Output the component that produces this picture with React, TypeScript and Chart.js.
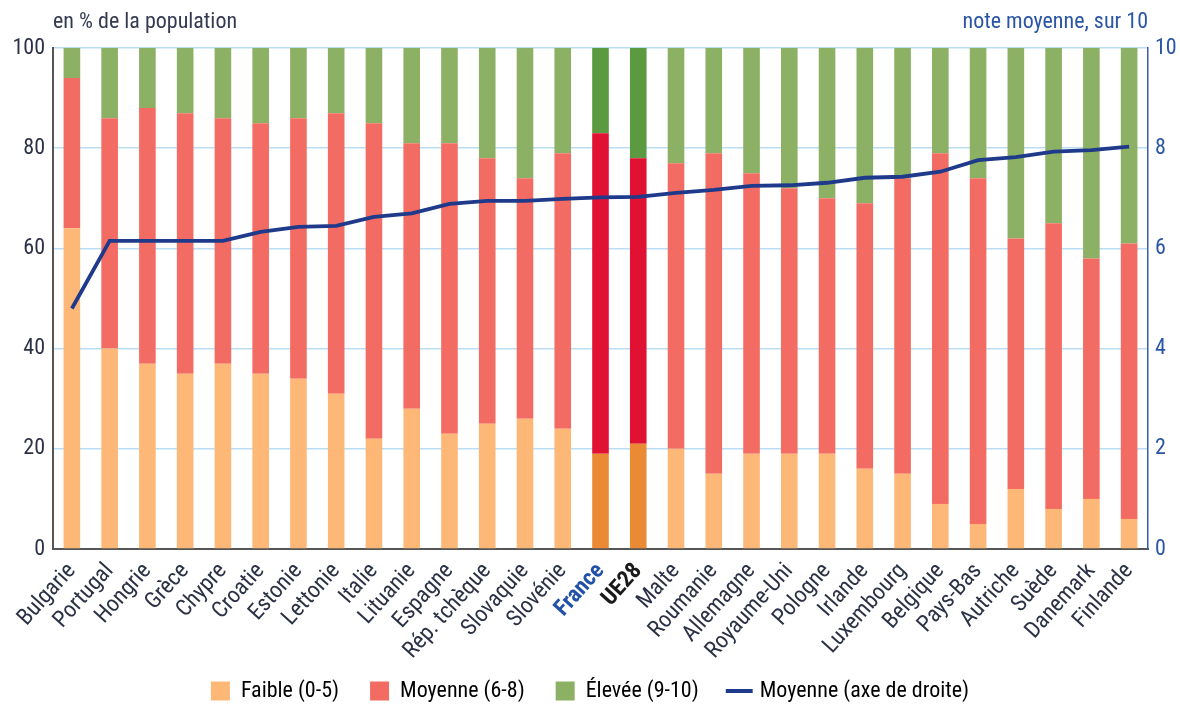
import React, { useEffect, useRef } from "react";
import { Chart, registerables } from "chart.js";

Chart.register(...registerables);

const categories = [
  "Bulgarie", "Portugal", "Hongrie", "Grèce", "Chypre", "Croatie", "Estonie", "Lettonie",
  "Italie", "Lituanie", "Espagne", "Rép. tchèque", "Slovaquie", "Slovénie", "France", "UE28",
  "Malte", "Roumanie", "Allemagne", "Royaume-Uni", "Pologne", "Irlande", "Luxembourg",
  "Belgique", "Pays-Bas", "Autriche", "Suède", "Danemark", "Finlande",
];

const faible = [64, 40, 37, 35, 37, 35, 34, 31, 22, 28, 23, 25, 26, 24, 19, 21, 20, 15, 19, 19, 19, 16, 15, 9, 5, 12, 8, 10, 6];
const moyenne = [30, 46, 51, 52, 49, 50, 52, 56, 63, 53, 58, 53, 48, 55, 64, 57, 57, 64, 56, 53, 51, 53, 59, 70, 69, 50, 57, 48, 55];
const elevee = [6, 14, 12, 13, 14, 15, 14, 13, 15, 19, 19, 22, 26, 21, 17, 22, 23, 21, 25, 28, 30, 31, 26, 21, 26, 38, 35, 42, 39];
const noteMoyenne = [4.8, 6.15, 6.15, 6.15, 6.15, 6.33, 6.43, 6.45, 6.63, 6.7, 6.89, 6.95, 6.95, 6.99, 7.02, 7.03, 7.11, 7.17, 7.25, 7.26, 7.31, 7.41, 7.43, 7.53, 7.76, 7.82, 7.93, 7.96, 8.03];

const leftTicks = [0, 20, 40, 60, 80, 100];
const rightTicks = [0, 2, 4, 6, 8, 10];

const seriesLabels = ["Faible (0-5)", "Moyenne (6-8)", "Élevée (9-10)", "Moyenne (axe de droite)"];
const leftTitle = "en % de la population";
const rightTitle = "note moyenne, sur 10";

const highlightFrance = "France";
const highlightUE = "UE28";

const FONT = '"Roboto Condensed", "Liberation Sans", Arial, sans-serif';

const COL_ORANGE = "#fdb878";
const COL_RED = "#f36c63";
const COL_GREEN = "#8cb064";
const COL_ORANGE_D = "#eb8a35";
const COL_RED_D = "#e11134";
const COL_GREEN_D = "#5b9a40";
const COL_LINE = "#1f3a8a";
const COL_TEXT = "#2c3246";
const COL_BLUE_TEXT = "#2b55a5";

const isHi = (c: string) => c === highlightFrance || c === highlightUE;

const titlesPlugin = {
  id: "sideTitles",
  beforeDraw(chart: any) {
    // let the rotated category labels run past the x-axis box (no clipping)
    const xs = chart.scales.x;
    if (xs) xs._computeLabelArea = () => undefined;
  },
  afterDraw(chart: any) {
    const { ctx, chartArea } = chart;
    ctx.save();
    ctx.font = `22px ${FONT}`;
    ctx.textBaseline = "alphabetic";
    ctx.fillStyle = "#343a52";
    ctx.textAlign = "left";
    ctx.fillText(leftTitle, chartArea.left, 28);
    ctx.fillStyle = COL_BLUE_TEXT;
    ctx.textAlign = "right";
    ctx.fillText(rightTitle, chartArea.right, 28);
    ctx.restore();
  },
};

export default function App() {
  const ref = useRef<HTMLCanvasElement | null>(null);

  useEffect(() => {
    document.body.style.margin = "0";
    if (!ref.current) return;
    const chart = new Chart(ref.current, {
      type: "bar",
      data: {
        labels: categories,
        datasets: [
          {
            type: "line",
            label: seriesLabels[3],
            data: noteMoyenne,
            yAxisID: "y1",
            borderColor: COL_LINE,
            backgroundColor: COL_LINE,
            borderWidth: 3.8,
            pointRadius: 0,
            tension: 0,
            order: 0,
          } as any,
          {
            label: seriesLabels[0],
            data: faible,
            backgroundColor: categories.map((c) => (isHi(c) ? COL_ORANGE_D : COL_ORANGE)),
            stack: "s",
            order: 1,
          },
          {
            label: seriesLabels[1],
            data: moyenne,
            backgroundColor: categories.map((c) => (isHi(c) ? COL_RED_D : COL_RED)),
            stack: "s",
            order: 1,
          },
          {
            label: seriesLabels[2],
            data: elevee,
            backgroundColor: categories.map((c) => (isHi(c) ? COL_GREEN_D : COL_GREEN)),
            stack: "s",
            order: 1,
          },
        ],
      },
      options: {
        animation: false,
        responsive: false,
        maintainAspectRatio: false,
        datasets: { bar: { barPercentage: 0.44, categoryPercentage: 1 } },
        layout: { padding: { top: 48, left: 0, right: 0, bottom: -8 } },
        plugins: {
          tooltip: { enabled: false },
          legend: {
            position: "bottom",
            labels: {
              font: { family: FONT, size: 22 },
              color: COL_TEXT,
              usePointStyle: true,
              boxHeight: 19,
              boxWidth: 19,
              padding: 31,
              generateLabels: () => [
                { text: seriesLabels[0], fillStyle: COL_ORANGE, strokeStyle: COL_ORANGE, lineWidth: 0, pointStyle: "rect", datasetIndex: 1, hidden: false },
                { text: seriesLabels[1], fillStyle: COL_RED, strokeStyle: COL_RED, lineWidth: 0, pointStyle: "rect", datasetIndex: 2, hidden: false },
                { text: seriesLabels[2], fillStyle: COL_GREEN, strokeStyle: COL_GREEN, lineWidth: 0, pointStyle: "rect", datasetIndex: 3, hidden: false },
                { text: seriesLabels[3], fillStyle: COL_LINE, strokeStyle: COL_LINE, lineWidth: 4, pointStyle: "line", datasetIndex: 0, hidden: false },
              ] as any,
            },
          },
        },
        scales: {
          x: {
            stacked: true,
            grid: { drawOnChartArea: false, drawTicks: false },
            border: { color: "#555", width: 2 },
            ticks: {
              autoSkip: false,
              maxRotation: 48,
              minRotation: 48,
              padding: 9,
              color: (ctx: any) => {
                const c = categories[ctx.index];
                if (c === highlightFrance) return "#2251a8";
                if (c === highlightUE) return "#1a1a1a";
                return COL_TEXT;
              },
              font: (ctx: any) => {
                const c = categories[ctx.index];
                return { family: FONT, size: 23, weight: isHi(c) ? "bold" : "normal" };
              },
            },
            afterFit: (s: any) => {
              s.height = 100;
            },
          },
          y: {
            stacked: true,
            min: 0,
            max: 100,
            afterBuildTicks: (s: any) => {
              s.ticks = leftTicks.map((v) => ({ value: v }));
            },
            grid: { color: "#b9def3", lineWidth: 1.5, drawTicks: false },
            border: { color: "#555", width: 2 },
            ticks: { color: COL_TEXT, font: { family: FONT, size: 22 }, padding: 8 },
            afterFit: (s: any) => {
              s.width = 53;
            },
          },
          y1: {
            position: "right",
            min: 0,
            max: 10,
            afterBuildTicks: (s: any) => {
              s.ticks = rightTicks.map((v) => ({ value: v }));
            },
            grid: { drawOnChartArea: false, drawTicks: false },
            border: { color: "#3a5ba8", width: 1.5 },
            ticks: { color: COL_BLUE_TEXT, font: { family: FONT, size: 22 }, padding: 7 },
            afterFit: (s: any) => {
              s.width = 32;
            },
          },
        },
      },
      plugins: [titlesPlugin],
    });
    return () => chart.destroy();
  }, []);

  return (
    <div style={{ width: 1180, height: 704 }}>
      <canvas ref={ref} width={1180} height={704} style={{ width: 1180, height: 704, display: "block" }} />
    </div>
  );
}
